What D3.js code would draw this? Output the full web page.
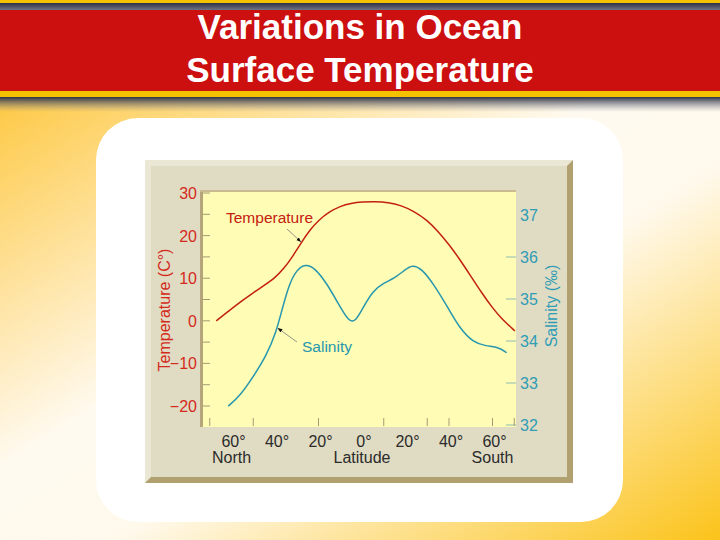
<!DOCTYPE html>
<html>
<head>
<meta charset="utf-8">
<script src="https://cdn.jsdelivr.net/npm/d3@7"></script>
<style>
  html, body { margin: 0; padding: 0; background: #fff; }
  svg { display: block; font-family: "Liberation Sans", Arial, sans-serif; }
</style>
</head>
<body>
<div id="chart"></div>
<script>
// chart data
var tempLat = [-67, -61, -56, -50, -45, -40, -36, -32, -28, -24, -20, -15, -10, -5, 0, 6, 12, 18, 24, 30, 35, 40, 45, 50, 55, 60, 64, 70.3];
var tempVal = [0, 2.4, 4.4, 6.6, 8.3, 10.1, 12.2, 15, 18.3, 21.3, 23.6, 25.6, 26.9, 27.6, 27.9, 28, 27.8, 27.1, 25.7, 23.6, 21, 17.9, 14.4, 10.5, 6.6, 3, 0.6, -2.4];

var salLat = [-61.5, -56, -50, -44, -39.5, -36.5, -33.5, -30, -26, -22, -16.5, -11, -6, -3, 0, 5, 10, 15, 19.5, 23, 27.5, 33, 40, 45, 51, 57, 63, 66.5];
var salVal = [32.45, 32.7, 33.15, 33.65, 34.2, 34.8, 35.35, 35.7, 35.83, 35.75, 35.4, 34.9, 34.45, 34.47, 34.75, 35.2, 35.38, 35.5, 35.68, 35.82, 35.72, 35.35, 34.75, 34.3, 33.97, 33.88, 33.85, 33.72];

var tempTicks = [-20, -15, -10, -5, 0, 5, 10, 15, 20, 25, 30];
var tempLabels = [-20, -10, 0, 10, 20, 30];
var salTicks = [32, 33, 34, 35, 36];
var salLabels = [32, 33, 34, 35, 36, 37];
var latTicks = [-70, -50, -20, 10, 30, 40, 60, 70];
var latLabels = [-60, -40, -20, 0, 20, 40, 60];

var svgWidth = 720, svgHeight = 540;
var red = "#c4200f", teal = "#2796ae";

var svg = d3.select("#chart").append("svg").attr("width", svgWidth).attr("height", svgHeight);
var defs = svg.append("defs");

// background gradient
var bg = defs.append("linearGradient").attr("id", "bg").attr("x1", 0).attr("y1", 0).attr("x2", 1).attr("y2", 1);
bg.append("stop").attr("offset", 0).attr("stop-color", "#fdc843");
bg.append("stop").attr("offset", 0.42).attr("stop-color", "#fffaf0");
bg.append("stop").attr("offset", 0.58).attr("stop-color", "#fff9ec");
bg.append("stop").attr("offset", 1).attr("stop-color", "#fbc31a");
svg.append("rect").attr("x", 0).attr("y", 95).attr("width", svgWidth).attr("height", svgHeight - 95).attr("fill", "url(#bg)");

// header band
var topDark = defs.append("linearGradient").attr("id", "topDark").attr("x1", 0).attr("y1", 0).attr("x2", 0).attr("y2", 1);
topDark.append("stop").attr("offset", 0).attr("stop-color", "#2b3046");
topDark.append("stop").attr("offset", 1).attr("stop-color", "#7a7d8a");
var shade = defs.append("linearGradient").attr("id", "shade").attr("x1", 0).attr("y1", 0).attr("x2", 0).attr("y2", 1);
shade.append("stop").attr("offset", 0).attr("stop-color", "#2e3348").attr("stop-opacity", 1);
shade.append("stop").attr("offset", 1).attr("stop-color", "#8a8c96").attr("stop-opacity", 0);

svg.append("rect").attr("x", 0).attr("y", 0).attr("width", svgWidth).attr("height", 3).attr("fill", "#f4c200");
svg.append("rect").attr("x", 0).attr("y", 3).attr("width", svgWidth).attr("height", 8).attr("fill", "url(#topDark)");
svg.append("rect").attr("x", 0).attr("y", 10).attr("width", svgWidth).attr("height", 81).attr("fill", "#cc0f0f");
svg.append("rect").attr("x", 0).attr("y", 91).attr("width", svgWidth).attr("height", 6).attr("fill", "#f4c200");
svg.append("rect").attr("x", 0).attr("y", 97).attr("width", svgWidth).attr("height", 15).attr("fill", "url(#shade)");

svg.append("text").attr("x", 360).attr("y", 39).attr("text-anchor", "middle")
  .attr("fill", "#fff").attr("font-weight", "bold").attr("font-size", "35px").text("Variations in Ocean");
svg.append("text").attr("x", 360).attr("y", 82).attr("text-anchor", "middle")
  .attr("fill", "#fff").attr("font-weight", "bold").attr("font-size", "35px").text("Surface Temperature");

// white card
svg.append("rect").attr("x", 96).attr("y", 118).attr("width", 527).attr("height", 404).attr("rx", 42).attr("fill", "#fff");

// beige panel with bevel
var pL = 145, pT = 160, pR = 573, pB = 483, bev = 6;
svg.append("rect").attr("x", pL).attr("y", pT).attr("width", pR - pL).attr("height", pB - pT).attr("fill", "#e0dbc3");
svg.append("path").attr("d", `M${pL},${pT}H${pR}L${pR - bev},${pT + bev}H${pL + bev}V${pB - bev}L${pL},${pB}Z`).attr("fill", "#ebe7d5");
svg.append("path").attr("d", `M${pR},${pT}V${pB}H${pL}L${pL + bev},${pB - bev}H${pR - bev}V${pT + bev}Z`).attr("fill", "#b2a170");

// plot area
var plotL = 200, plotT = 190, plotR = 516, plotB = 427;
svg.append("rect").attr("x", plotL).attr("y", plotT).attr("width", plotR - plotL).attr("height", plotB - plotT).attr("fill", "#fefcb5");
svg.append("rect").attr("x", plotL).attr("y", plotT).attr("width", 3).attr("height", plotB - plotT).attr("fill", "#b5a57a");
svg.append("rect").attr("x", plotL).attr("y", plotT).attr("width", plotR - plotL).attr("height", 2).attr("fill", "#c9bb8e");

// scales
var xScale = d3.scaleLinear().domain([-70, 70]).range([209.75, 514.25]);
var yTemp = d3.scaleLinear().domain([-20, 30]).range([406, 193]);
var ySal = d3.scaleLinear().domain([32, 37]).range([425, 215]);

var chart = svg.append("g");

// left axis (temperature)
chart.selectAll(".tTick").data(tempTicks).enter().append("line")
  .attr("x1", 203).attr("x2", 210)
  .attr("y1", function(d) { return yTemp(d); }).attr("y2", function(d) { return yTemp(d); })
  .attr("stroke", "#a69a74").attr("stroke-width", 1);
chart.selectAll(".tLab").data(tempLabels).enter().append("text")
  .attr("x", 197).attr("y", function(d) { return yTemp(d) + 6; })
  .attr("text-anchor", "end").attr("font-size", "16px").attr("fill", "#d42a1c")
  .text(function(d) { return d < 0 ? "\u2212" + Math.abs(d) : d; });

// right axis (salinity)
chart.selectAll(".sTick").data(salTicks).enter().append("line")
  .attr("x1", 506).attr("x2", 516)
  .attr("y1", function(d) { return ySal(d); }).attr("y2", function(d) { return ySal(d); })
  .attr("stroke", "#8cbcb2").attr("stroke-width", 1);
chart.selectAll(".sLab").data(salLabels).enter().append("text")
  .attr("x", 520).attr("y", function(d) { return ySal(d) + 6; })
  .attr("font-size", "16px").attr("fill", "#2f9db6")
  .text(function(d) { return d; });

// bottom axis (latitude)
chart.selectAll(".xTick").data(latTicks).enter().append("line")
  .attr("x1", function(d) { return xScale(d); }).attr("x2", function(d) { return xScale(d); })
  .attr("y1", 418).attr("y2", 426)
  .attr("stroke", "#a69a74").attr("stroke-width", 1);
chart.selectAll(".xLab").data(latLabels).enter().append("text")
  .attr("x", function(d) { return xScale(d) + 2; }).attr("y", 447)
  .attr("text-anchor", "middle").attr("font-size", "16px").attr("fill", "#2b2b2b")
  .text(function(d) { return Math.abs(d) + "\u00b0"; });
chart.append("text").attr("x", xScale(-60)).attr("y", 463).attr("text-anchor", "middle")
  .attr("font-size", "16px").attr("fill", "#2b2b2b").text("North");
chart.append("text").attr("x", xScale(0)).attr("y", 463).attr("text-anchor", "middle")
  .attr("font-size", "16px").attr("fill", "#2b2b2b").text("Latitude");
chart.append("text").attr("x", xScale(60)).attr("y", 463).attr("text-anchor", "middle")
  .attr("font-size", "16px").attr("fill", "#2b2b2b").text("South");

// axis titles
chart.append("text").attr("transform", "translate(170,310)rotate(-90)").attr("text-anchor", "middle")
  .attr("font-size", "16px").attr("fill", "#d42a1c").text("Temperature (C\u00b0)");
chart.append("text").attr("transform", "translate(557,306)rotate(-90)").attr("text-anchor", "middle")
  .attr("font-size", "16px").attr("fill", "#2f9db6").text("Salinity (\u2030)");

// curves
var tempData = tempLat.map(function(d, i) { return [d, tempVal[i]]; });
var salData = salLat.map(function(d, i) { return [d, salVal[i]]; });

var tempLine = d3.line().curve(d3.curveBasis)
  .x(function(d) { return xScale(d[0]); }).y(function(d) { return yTemp(d[1]); });
var salLine = d3.line().curve(d3.curveBasis)
  .x(function(d) { return xScale(d[0]); }).y(function(d) { return ySal(d[1]); });

chart.append("path").datum(tempData).attr("d", tempLine).attr("fill", "none").attr("stroke", red).attr("stroke-width", 1.5);
chart.append("path").datum(salData).attr("d", salLine).attr("fill", "none").attr("stroke", teal).attr("stroke-width", 1.5);

// annotations
defs.append("marker").attr("id", "arr").attr("viewBox", "0 0 10 10").attr("refX", 9).attr("refY", 5)
  .attr("markerWidth", 6).attr("markerHeight", 6).attr("orient", "auto")
  .append("path").attr("d", "M0,1L10,5L0,9Z").attr("fill", "#111");

chart.append("text").attr("x", 226).attr("y", 223).attr("font-size", "15.5px").attr("fill", red).text("Temperature");
chart.append("line").attr("x1", 287).attr("y1", 229).attr("x2", xScale(-28.2)).attr("y2", yTemp(18.6))
  .attr("stroke", "#777").attr("stroke-width", 0.8).attr("marker-end", "url(#arr)");

chart.append("text").attr("x", 302).attr("y", 352).attr("font-size", "15.5px").attr("fill", teal).text("Salinity");
chart.append("line").attr("x1", 297).attr("y1", 342).attr("x2", xScale(-38.6)).attr("y2", ySal(34.3))
  .attr("stroke", "#777").attr("stroke-width", 0.8).attr("marker-end", "url(#arr)");
</script>
</body>
</html>
